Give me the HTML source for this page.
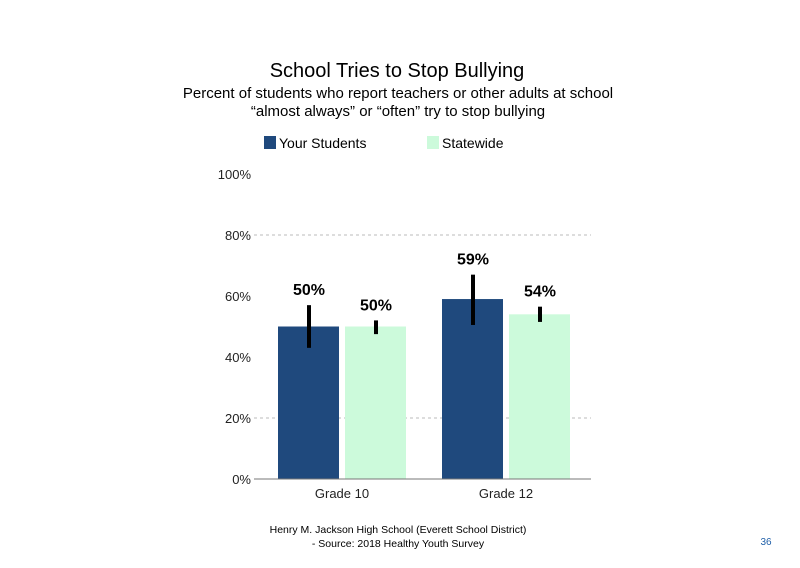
<!DOCTYPE html>
<html><head><meta charset="utf-8"><style>
body{margin:0;background:#fff;}
svg{display:block;font-family:"Liberation Sans",sans-serif;}
</style></head><body>
<svg id="chart" width="800" height="568" viewBox="0 0 800 568">
<text x="397" y="77" text-anchor="middle" font-size="20">School Tries to Stop Bullying</text>
<text x="398" y="98" text-anchor="middle" font-size="15">Percent of students who report teachers or other adults at school</text>
<text x="398" y="116" text-anchor="middle" font-size="15">“almost always” or “often” try to stop bullying</text>
<g>
<rect x="264" y="136" width="12" height="13" fill="#1f497d"/>
<text x="279" y="148" font-size="14">Your Students</text>
<rect x="427" y="136" width="12" height="13" fill="#ccfadb"/>
<text x="442" y="148" font-size="14">Statewide</text>
</g>
<g id="plot"></g>
<text x="398" y="533" text-anchor="middle" font-size="10.5">Henry M. Jackson High School (Everett School District)</text>
<text x="398" y="547" text-anchor="middle" font-size="10.5">- Source: 2018 Healthy Youth Survey</text>
<text x="766" y="545" text-anchor="middle" font-size="10" fill="#1f5fa8">36</text>
</svg>
<script>
const categories=["Grade 10","Grade 12"];
const yourStudents=[50,59];
const statewide=[50,54];
const yourLow=[43,50.5];
const yourHigh=[57,67];
const stateLow=[47.5,51.5];
const stateHigh=[52,56.5];
const yTicks=[0,20,40,60,80,100];
const gridTicks=[20,80];
const NS="http://www.w3.org/2000/svg";
const g=document.getElementById("plot");
const y0=479,pxPer=3.05,xL=254,xR=591;
function y(v){return y0-v*pxPer;}
function groupX(i){return 278+i*164;}
function mk(t,a){const e=document.createElementNS(NS,t);for(const k in a)e.setAttribute(k,a[k]);g.appendChild(e);return e;}
gridTicks.forEach(t=>{
 const l=mk("line",{x1:xL,x2:xR,y1:y(t),y2:y(t),stroke:"#bbb","stroke-dasharray":"3,3"});
 
 
});
yTicks.forEach(t=>{
 const tx=mk("text",{x:251,y:y(t)+5,"text-anchor":"end","font-size":"13",fill:"#222"});
 tx.textContent=t+"%";
 
 
});
categories.forEach((c,i)=>{
 const x=groupX(i);
 [[yourStudents,"#1f497d",0,yourLow,yourHigh,"your-students"],[statewide,"#ccfadb",67,stateLow,stateHigh,"statewide"]].forEach(([arr,col,off,lo,hi,nm])=>{
  const v=arr[i];
  const r=mk("rect",{x:x+off,y:y(v),width:61,height:y0-y(v),fill:col});
  
  
  const cx=x+off+31;
  const e=mk("line",{x1:cx,x2:cx,y1:y(hi[i]),y2:y(lo[i]),stroke:"#000","stroke-width":4});
  
  
  const lb=mk("text",{x:cx,y:y(hi[i])-10,"text-anchor":"middle","font-size":"16","font-weight":"bold"});
  lb.textContent=v+"%";
  
  
 });
 const ct=mk("text",{x:x+64,y:498,"text-anchor":"middle","font-size":"13",fill:"#222"});
 ct.textContent=c;
 
 
});
const ax=mk("line",{x1:xL,x2:xR,y1:y0,y2:y0,stroke:"#777","stroke-width":1});


</script>
</body></html>
